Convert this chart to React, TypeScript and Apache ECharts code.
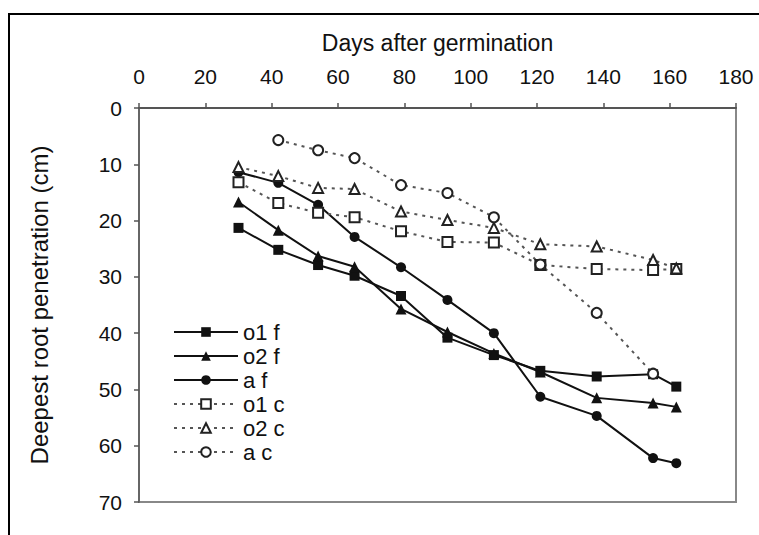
import React, { useEffect, useRef } from "react";
import * as echarts from "echarts";

const days = [30, 42, 54, 65, 79, 93, 107, 121, 138, 155, 162];
const o1f = [21.3, 25.2, 27.9, 29.8, 33.4, 40.8, 43.9, 46.7, 47.7, 47.3, 49.5];
const o2f = [16.7, 21.7, 26.3, 28.2, 35.7, 39.8, 43.6, 46.9, 51.5, 52.4, 53.1];
const af = [11.4, 13.3, 17.2, 22.9, 28.3, 34.1, 40.0, 51.3, 54.7, 62.2, 63.1];
const o1c = [13.2, 16.9, 18.6, 19.4, 21.9, 23.8, 23.9, 27.9, 28.6, 28.8, 28.6];
const o2c = [10.5, 12.1, 14.2, 14.4, 18.4, 19.9, 21.3, 24.2, 24.6, 27.0, 28.5];
const ac = [null, 5.7, 7.5, 8.9, 13.7, 15.1, 19.4, 27.8, 36.4, 47.2, null];

const seriesNames = ["o1 f", "o2 f", "a f", "o1 c", "o2 c", "a c"];
const xTitle = "Days after germination";
const yTitle = "Deepest root penetration (cm)";

function pairs(vals: (number | null)[]) {
  const out: number[][] = [];
  vals.forEach((v, i) => {
    if (v !== null) out.push([days[i], v]);
  });
  return out;
}

const FONT = "Liberation Sans, Arial, sans-serif";

export default function App() {
  const ref = useRef<HTMLDivElement>(null);
  useEffect(() => {
    if (!ref.current) return;
    const chart = echarts.init(ref.current, null, { renderer: "svg" });
    const solid = (name: string, vals: (number | null)[], symbol: string, size: number) => ({
      name,
      type: "line",
      data: pairs(vals),
      symbol,
      symbolSize: size,
      lineStyle: { color: "#111", width: 2, type: "solid" },
      itemStyle: { color: "#111" },
    });
    const dotted = (name: string, vals: (number | null)[], symbol: string, size: number) => ({
      name,
      type: "line",
      data: pairs(vals),
      symbol,
      symbolSize: size,
      lineStyle: { color: "#555", width: 2, type: [3, 5] },
      itemStyle: { color: "#222", borderWidth: 2 },
    });
    chart.setOption({
      animation: false,
      backgroundColor: "#fff",
      grid: { left: 139, right: 23, top: 108, bottom: 33, show: true, borderColor: "#888", borderWidth: 2 },
      graphic: [
        {
          type: "rect",
          shape: { x: 9, y: 14, width: 800, height: 600 },
          style: { fill: "none", stroke: "#000", lineWidth: 2 },
          silent: true,
        },
      ],
      legend: {
        orient: "vertical",
        left: 168,
        top: 316,
        itemWidth: 64,
        itemHeight: 12,
        itemGap: 2,
        itemTextGap: 5,
        data: seriesNames,
        textStyle: { fontFamily: FONT, fontSize: 22, color: "#111", lineHeight: 22 },
      },
      xAxis: {
        type: "value",
        position: "top",
        min: 0,
        max: 180,
        interval: 20,
        name: xTitle,
        nameLocation: "middle",
        nameGap: 54,
        nameTextStyle: { fontFamily: FONT, fontSize: 23, color: "#111" },
        axisLine: { show: true, lineStyle: { color: "#555", width: 2 } },
        axisTick: { show: true, length: 5, lineStyle: { color: "#555", width: 1.5 } },
        axisLabel: { fontFamily: FONT, fontSize: 21, color: "#111", margin: 21 },
        splitLine: { show: false },
      },
      yAxis: {
        type: "value",
        inverse: true,
        min: 0,
        max: 70,
        interval: 10,
        name: yTitle,
        nameLocation: "middle",
        nameGap: 88,
        nameTextStyle: { fontFamily: FONT, fontSize: 24, color: "#111" },
        axisLine: { show: true, lineStyle: { color: "#666", width: 2 } },
        axisTick: { show: true, length: 5, lineStyle: { color: "#555", width: 1.5 } },
        axisLabel: { fontFamily: FONT, fontSize: 21, color: "#111", margin: 17 },
        splitLine: { show: false },
      },
      series: [
        solid("o1 f", o1f, "rect", 10),
        solid("o2 f", o2f, "triangle", 11),
        solid("a f", af, "circle", 10),
        dotted("o1 c", o1c, "emptyRect", 10),
        dotted("o2 c", o2c, "emptyTriangle", 10),
        dotted("a c", ac, "emptyCircle", 10),
      ],
    });
    return () => chart.dispose();
  }, []);
  return <div ref={ref} style={{ position: "fixed", left: 0, top: 0, width: 759, height: 535 }} />;
}
